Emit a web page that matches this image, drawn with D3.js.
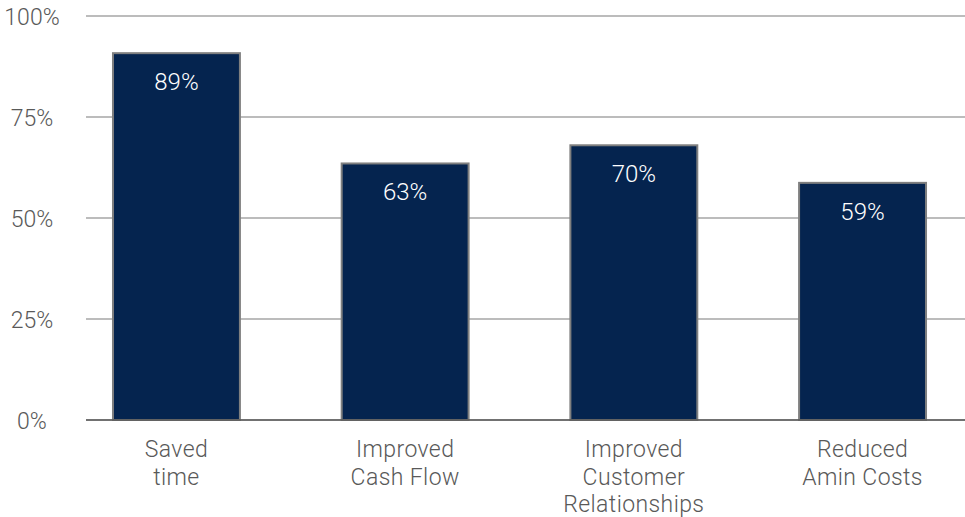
<!DOCTYPE html>
<html lang="en">
<head>
<meta charset="utf-8">
<title>Benefits</title>
<script src="https://cdn.jsdelivr.net/npm/d3@7"></script>
<style>
    body { margin: 0; background: #fff; }
    .grid line { stroke: #a6a6a6; stroke-width: 1.5; }
    .axis text { font-family: Roboto, sans-serif; font-weight: 300; font-size: 23px; fill: #595959; }
    .xlab text { letter-spacing: 0.4px; }
    .bar { fill: #05244f; stroke: #7f7f7f; stroke-width: 2; }
    .label { font-family: Roboto, sans-serif; font-weight: 300; font-size: 24px; fill: #fff; }
</style>
</head>
<body>
<div id="chart"></div>
<script>
// categories, bar heights as drawn, and the printed labels
const categories = [["Saved", "time"], ["Improved", "Cash Flow"],
                    ["Improved", "Customer", "Relationships"], ["Reduced", "Amin Costs"]];
const barValues = [90.8, 63.5, 68, 58.7];
const valueLabels = ["89%", "63%", "70%", "59%"];
const yTicks = [0, 25, 50, 75, 100];

const WIDTH = 965, HEIGHT = 517;
const MARGIN = { top: 16, bottom: 97, left: 86, right: 0 };

let svg = d3.select("#chart").append("svg")
    .attr("width", WIDTH)
    .attr("height", HEIGHT);

let yScale = d3.scaleLinear()
    .domain([0, 100])
    .range([HEIGHT - MARGIN.bottom, MARGIN.top]);

let xScale = d3.scaleBand()
    .domain(d3.range(categories.length))
    .range([MARGIN.left, 953])
    .paddingInner(0.445)
    .paddingOuter(0.118);

// gridlines
let grid = svg.append("g").attr("class", "grid");
grid.selectAll("line")
    .data(yTicks)
    .enter()
    .append("line")
    .attr("x1", MARGIN.left)
    .attr("x2", WIDTH)
    .attr("y1", d => yScale(d))
    .attr("y2", d => yScale(d));

// y labels, centred in the left margin
let yAxis = svg.append("g").attr("class", "axis");
yAxis.selectAll("text")
    .data(yTicks)
    .enter()
    .append("text")
    .attr("x", 32)
    .attr("y", d => yScale(d) + 9)
    .attr("text-anchor", "middle")
    .text(d => d + "%");

// bars
svg.selectAll(".bar")
    .data(barValues)
    .enter()
    .append("rect")
    .attr("class", "bar")
    .attr("x", (d, i) => xScale(i))
    .attr("width", xScale.bandwidth())
    .attr("y", d => yScale(d))
    .attr("height", d => yScale(0) - yScale(d));

// baseline over the bars
svg.append("line")
    .attr("x1", MARGIN.left)
    .attr("x2", WIDTH)
    .attr("y1", yScale(0))
    .attr("y2", yScale(0))
    .style("stroke", "#595959")
    .style("stroke-width", 1.5);

svg.selectAll(".label")
    .data(barValues)
    .enter()
    .append("text")
    .attr("class", "label")
    .attr("x", (d, i) => xScale(i) + xScale.bandwidth() / 2)
    .attr("y", d => yScale(d) + 37)
    .attr("text-anchor", "middle")
    .text((d, i) => valueLabels[i]);

// category labels
let xAxis = svg.append("g").attr("class", "axis xlab");
categories.forEach((lines, i) => {
    let cx = xScale(i) + xScale.bandwidth() / 2;
    let t = xAxis.append("text")
        .attr("text-anchor", "middle")
        .attr("x", cx)
        .attr("y", yScale(0) + 37);
    lines.forEach((line, j) => {
        t.append("tspan")
            .attr("x", cx)
            .attr("dy", j == 0 ? 0 : 27.5)
            .text(line);
    });
});
</script>
</body>
</html>
